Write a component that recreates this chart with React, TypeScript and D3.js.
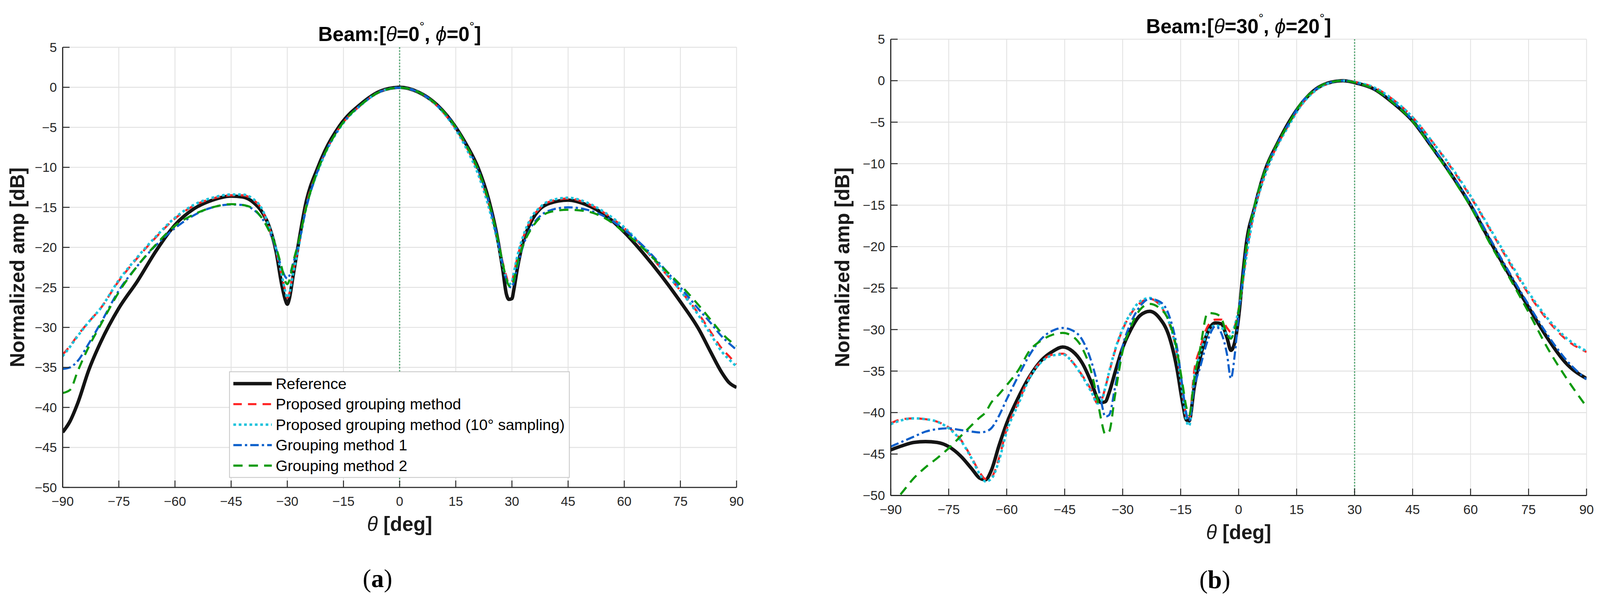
import React, { useEffect } from 'react';
import * as d3 from 'd3';

// tick values shared by both panels
const xTicks = [-90, -75, -60, -45, -30, -15, 0, 15, 30, 45, 60, 75, 90];
const yTicks = [5, 0, -5, -10, -15, -20, -25, -30, -35, -40, -45, -50];

const seriesNames = [
  'Reference',
  'Proposed grouping method',
  'Proposed grouping method (10\u00b0 sampling)',
  'Grouping method 1',
  'Grouping method 2',
];

// panel (a): beam [theta=0, phi=0]
const thetaA = [-90, -88, -86, -83, -80, -75, -70, -65, -60, -55, -50, -45, -42, -39, -37, -35, -33, -31.5, -30.5, -30,
  -29.5, -28.5, -27, -25, -22, -20, -16, -10, -5, 0, 5, 10, 15, 18, 21, 24, 26, 27.5, 28.5, 29.2,
  30, 30.5, 31.5, 33, 35, 37.5, 40, 45, 50, 55, 60, 65, 70, 75, 80, 83, 86, 88, 90];
const refA = [-43.1, -41.7, -39.5, -35.3, -32.0, -27.6, -24.2, -20.4, -17.2, -15.2, -14.1, -13.6, -13.7, -14.4, -15.4, -17.2, -20.5, -24.6, -26.6, -27.1,
  -26.5, -23.7, -19.5, -14.4, -10.2, -8.0, -4.8, -1.95, -0.45, 0, -0.6, -2.2, -5.0, -7.3, -10.1, -14.4, -18.5, -22.6, -25.8, -26.5,
  -26.4, -25.3, -22.5, -19.3, -16.9, -15.2, -14.5, -14.1, -14.7, -16.0, -18.1, -20.7, -23.6, -26.8, -30.3, -33.0, -35.6, -36.9, -37.5];
const propA = [-33.4, -32.3, -31.0, -29.3, -27.7, -24.2, -21.3, -18.7, -16.4, -14.8, -13.9, -13.5, -13.5, -14.1, -15.1, -17.4, -20.4, -23.5, -25.5, -26.3,
  -25.8, -23.2, -19.8, -14.9, -10.5, -8.3, -5.0, -2.1, -0.5, -0.05, -0.6, -2.3, -5.2, -7.6, -10.6, -14.9, -18.6, -21.8, -23.6, -24.5,
  -24.3, -23.3, -21.2, -18.8, -16.6, -15.1, -14.3, -13.9, -14.5, -15.8, -17.6, -20.0, -22.7, -25.4, -28.4, -30.5, -32.6, -33.6, -34.6];
const sampA = [-33.6, -32.4, -31.1, -29.3, -27.7, -24.1, -21.2, -18.6, -16.3, -14.7, -13.8, -13.4, -13.4, -14.0, -15.0, -17.2, -20.2, -23.4, -25.6, -26.3,
  -25.9, -23.4, -20.0, -15.1, -10.7, -8.4, -5.1, -2.1, -0.5, -0.05, -0.6, -2.3, -5.3, -7.8, -10.9, -15.3, -19.0, -22.2, -23.9, -24.6,
  -24.3, -23.2, -21.0, -18.6, -16.4, -15.0, -14.2, -13.8, -14.4, -15.7, -17.5, -19.9, -22.6, -25.4, -28.6, -30.8, -33.0, -34.0, -34.9];
const grp1A = [-35.2, -35.0, -34.2, -32.0, -29.6, -25.4, -22.3, -19.7, -17.6, -16.0, -15.0, -14.65, -14.7, -15.3, -16.2, -17.8, -20.2, -22.6, -23.7, -23.9,
  -23.6, -22.1, -19.6, -15.2, -10.6, -8.3, -5.0, -2.05, -0.5, -0.05, -0.6, -2.2, -5.0, -7.4, -10.3, -14.6, -18.5, -22.0, -24.0, -24.9,
  -25.0, -24.3, -22.3, -19.8, -17.6, -16.1, -15.4, -15.0, -15.3, -16.2, -17.8, -19.8, -22.3, -25.0, -27.8, -29.4, -31.1, -32.0, -32.8];
const grp2A = [-38.2, -37.8, -35.5, -32.4, -29.8, -25.6, -22.3, -19.6, -17.3, -15.9, -15.0, -14.6, -14.7, -15.2, -16.2, -17.8, -20.0, -22.5, -24.3, -24.6,
  -24.2, -22.0, -19.3, -15.1, -10.5, -8.3, -5.0, -2.05, -0.5, -0.05, -0.6, -2.2, -5.0, -7.4, -10.3, -14.6, -18.4, -21.9, -23.9, -24.8,
  -24.9, -24.1, -22.0, -19.7, -17.8, -16.3, -15.6, -15.3, -15.5, -16.4, -18.1, -20.1, -22.4, -24.7, -27.3, -29.0, -30.7, -31.6, -32.3];

// panel (b): beam [theta=30, phi=20]
const thetaB = [-90, -87, -84, -81, -78, -75, -72, -69, -67, -65.5, -64, -62, -60, -57, -54, -51, -48, -45.5, -43, -40.5,
  -38, -36.5, -35.5, -34.5, -33.5, -32, -30, -28, -25.5, -23, -20.5, -18, -16, -14.5, -13.5, -12.8, -11.5, -10, -8, -6,
  -4.5, -3, -2, -1, 0, 1, 2, 4, 7, 10, 13, 16, 20, 23, 27, 31, 35, 40, 45, 50, 55, 60, 65, 70, 75, 80, 85, 90];
const refB = [-44.5, -44.0, -43.6, -43.5, -43.6, -44.1, -45.2, -46.8, -47.9, -48.1, -47.0, -44.0, -41.3, -38.2, -35.6, -33.7, -32.6, -32.1, -32.6, -34.0,
  -36.5, -38.3, -38.8, -38.7, -37.6, -35.2, -32.2, -30.1, -28.3, -27.8, -28.6, -30.8, -34.6, -38.8, -40.9, -41.0, -37.0, -33.5, -30.3, -29.2,
  -29.3, -31.0, -32.5, -31.5, -28.5, -23.8, -19.6, -15.5, -10.6, -7.6, -5.0, -2.9, -1.0, -0.3, 0, -0.35, -1.0, -2.7, -4.85, -8.0,
  -11.3, -15.0, -19.3, -23.4, -27.3, -31.1, -34.2, -35.9];
const propB = [-41.3, -40.8, -40.7, -40.8, -41.1, -41.8, -43.2, -45.5, -47.2, -48.0, -47.8, -45.5, -42.0, -38.8, -35.6, -33.8, -33.0, -32.9, -33.9, -35.5,
  -37.4, -38.9, -38.5, -37.0, -35.2, -32.6, -30.0, -28.2, -26.8, -26.3, -27.0, -29.2, -32.8, -37.5, -40.5, -40.8, -35.0, -32.3, -29.6, -28.8,
  -28.8, -29.8, -30.3, -29.6, -27.5, -24.5, -21.0, -15.8, -11.0, -7.8, -5.3, -3.0, -1.1, -0.35, 0, -0.25, -0.8, -2.3, -4.4, -7.3,
  -10.5, -14.0, -17.9, -21.9, -25.7, -28.9, -31.3, -32.7];
const sampB = [-41.4, -40.9, -40.7, -40.8, -41.1, -41.9, -43.3, -45.6, -47.4, -48.3, -48.0, -45.8, -42.3, -39.0, -35.8, -33.9, -33.1, -33.0, -33.9, -35.6,
  -37.6, -38.9, -38.6, -37.0, -35.1, -32.5, -29.9, -28.1, -26.6, -26.2, -26.9, -29.1, -32.8, -37.8, -41.0, -41.6, -35.8, -33.0, -30.3, -29.5,
  -29.7, -30.6, -30.8, -29.5, -27.6, -24.6, -21.2, -16.0, -11.2, -7.9, -5.4, -3.1, -1.15, -0.35, 0, -0.25, -0.8, -2.3, -4.4, -7.3,
  -10.4, -13.9, -17.8, -21.7, -25.5, -28.7, -31.1, -32.6];
const grp1B = [-44.1, -43.5, -42.9, -42.3, -42.0, -41.9, -42.1, -42.3, -42.4, -42.3, -41.9, -40.4, -38.4, -35.6, -33.0, -31.1, -30.1, -29.8, -30.1, -31.2,
  -34.0, -36.6, -38.8, -40.5, -40.3, -37.0, -32.0, -29.3, -27.2, -26.3, -26.6, -28.3, -32.0, -37.0, -40.2, -41.0, -37.0, -34.6, -31.3, -29.6,
  -30.4, -33.0, -35.9, -33.0, -28.2, -24.0, -20.0, -15.3, -10.6, -7.6, -5.1, -2.8, -1.0, -0.3, 0, -0.35, -1.0, -2.6, -4.8, -7.9,
  -11.2, -14.8, -19.0, -23.1, -27.0, -30.7, -33.8, -36.0];
const grp2B = [-51.3, -49.6, -47.9, -46.6, -45.5, -44.3, -42.9, -41.5, -40.6, -40.0, -38.8, -37.8, -36.7, -34.9, -32.5, -31.3, -30.6, -30.4, -30.8, -32.2,
  -35.3, -38.5, -41.0, -42.6, -42.3, -38.0, -32.6, -29.8, -27.6, -26.9, -27.4, -29.0, -32.4, -36.6, -39.4, -40.3, -36.0, -32.4, -28.0, -28.1,
  -28.6, -30.6, -31.1, -29.9, -27.8, -24.0, -20.0, -15.3, -10.6, -7.6, -5.1, -2.8, -1.0, -0.25, 0, -0.35, -1.0, -2.7, -4.9, -8.1,
  -11.5, -15.2, -19.6, -23.7, -27.9, -32.3, -36.0, -39.3];

const lineStyles = [
  { color: '#141414', width: 9, dash: 'none' },
  { color: '#ff2424', width: 5.5, dash: '22 16' },
  { color: '#1ec3dc', width: 6.5, dash: '7 7' },
  { color: '#0a5fcb', width: 5.5, dash: '22 8 6 8' },
  { color: '#0c9a0c', width: 5.5, dash: '24 16' },
];

const W = 4162, H = 1577;
const FONT = '"Liberation Sans", Arial, Helvetica, sans-serif';
const AXIS = '#262626';
const fmt = (v: number) => (v < 0 ? '\u2212' + Math.abs(v) : String(v));

type PanelProps = {
  id: string;
  x0: number; x1: number; y0: number; y1: number;
  theta: number[];
  series: number[][];
  beam: [string, string];
  steer: number;
  tag: string; tagX: number; tagY: number;
  yLabelX: number;
  legend?: { x: number; y: number; w: number; h: number };
};

function Panel(p: PanelProps) {
  const x = d3.scaleLinear().domain([-90, 90]).range([p.x0, p.x1]);
  const y = d3.scaleLinear().domain([-50, 5]).range([p.y1, p.y0]);
  const line = d3.line<number>()
    .x((_, i) => x(p.theta[i]))
    .y(d => y(d))
    .curve(d3.curveMonotoneX);
  const cx = (p.x0 + p.x1) / 2;
  const cy = (p.y0 + p.y1) / 2;

  return (
    <g fontFamily={FONT}>
      <defs>
        <clipPath id={p.id}>
          <rect x={p.x0} y={p.y0} width={p.x1 - p.x0} height={p.y1 - p.y0} />
        </clipPath>
      </defs>

      {/* grid */}
      {xTicks.map(t => (
        <line key={'gx' + t} x1={x(t)} x2={x(t)} y1={p.y0} y2={p.y1} stroke="#e2e2e2" strokeWidth={2.2} />
      ))}
      {yTicks.map(t => (
        <line key={'gy' + t} x1={p.x0} x2={p.x1} y1={y(t)} y2={y(t)} stroke="#e2e2e2" strokeWidth={2.5} />
      ))}

      {/* steering direction */}
      <line x1={x(p.steer)} x2={x(p.steer)} y1={p.y0} y2={p.y1} stroke="#3f9f62" strokeWidth={3.2} strokeDasharray="3.5 4.5" />

      <g clipPath={`url(#${p.id})`}>
        {p.series.map((s, i) => (
          <path key={i} d={line(s) || ''} fill="none" stroke={lineStyles[i].color} strokeWidth={lineStyles[i].width}
            strokeDasharray={lineStyles[i].dash} strokeLinejoin="round" />
        ))}
      </g>

      {/* axes */}
      <line x1={p.x0} x2={p.x0} y1={p.y0} y2={p.y1} stroke={AXIS} strokeWidth={3} />
      <line x1={p.x0} x2={p.x1} y1={p.y1} y2={p.y1} stroke={AXIS} strokeWidth={3} />
      {xTicks.map(t => (
        <g key={'tx' + t}>
          <line x1={x(t)} x2={x(t)} y1={p.y1} y2={p.y1 - 18} stroke={AXIS} strokeWidth={2.5} />
          <text x={x(t)} y={p.y1 + 48} textAnchor="middle" fontSize={34} fill={AXIS}>{fmt(t)}</text>
        </g>
      ))}
      {yTicks.map(t => (
        <g key={'ty' + t}>
          <line x1={p.x0} x2={p.x0 + 18} y1={y(t)} y2={y(t)} stroke={AXIS} strokeWidth={2.5} />
          <text x={p.x0 - 15} y={y(t) + 12} textAnchor="end" fontSize={34} fill={AXIS}>{fmt(t)}</text>
        </g>
      ))}

      {/* title and labels */}
      <text x={cx} y={p.y0 - 16} textAnchor="middle" fontSize={52} fontWeight="bold" fill="#000">
        Beam:[<tspan fontStyle="italic" fontWeight="normal">θ</tspan>={p.beam[0]}
        <tspan dy={-28} fontSize={32} fontWeight="normal">°</tspan>
        <tspan dy={28}>, </tspan>
        <tspan fontStyle="italic" fontWeight="normal">ϕ</tspan>={p.beam[1]}
        <tspan dy={-28} fontSize={32} fontWeight="normal">°</tspan>
        <tspan dy={28}>]</tspan>
      </text>
      <text x={cx} y={p.y1 + 113} textAnchor="middle" fontSize={52} fontWeight="bold" fill="#1a1a1a">
        <tspan fontStyle="italic" fontWeight="normal">θ</tspan>{' [deg]'}
      </text>
      <text transform={`translate(${p.yLabelX},${cy}) rotate(-90)`} textAnchor="middle" fontSize={52} fontWeight="bold" fill="#1a1a1a">
        Normalized amp [dB]
      </text>
      <text x={p.tagX} y={p.tagY} textAnchor="middle" fontSize={66} fontFamily='"Liberation Serif", "DejaVu Serif", serif' fill="#000">
        (<tspan fontWeight="bold">{p.tag}</tspan>)
      </text>

      {p.legend && (
        <g>
          <rect x={p.legend.x} y={p.legend.y} width={p.legend.w} height={p.legend.h} fill="#fff" stroke="#c4c4c4" strokeWidth={2} />
          {seriesNames.map((name, i) => {
            const ly = p.legend!.y + 31 + i * 53.3;
            return (
              <g key={name}>
                <line x1={p.legend!.x + 10} x2={p.legend!.x + 110} y1={ly} y2={ly} stroke={lineStyles[i].color}
                  strokeWidth={lineStyles[i].width} strokeDasharray={lineStyles[i].dash} />
                <text x={p.legend!.x + 120} y={ly + 14} fontSize={40} fill="#000">{name}</text>
              </g>
            );
          })}
        </g>
      )}
    </g>
  );
}

export default function App() {
  useEffect(() => {
    document.body.style.margin = '0';
    document.documentElement.style.overflow = 'hidden';
    document.body.style.overflow = 'hidden';
  }, []);

  return (
    <svg viewBox={`0 0 ${W} ${H}`} preserveAspectRatio="xMinYMin meet"
      style={{ position: 'fixed', left: 0, top: 0, width: '100vw', height: '100vh', background: '#fff' }}>
      <rect width={W} height={H} fill="#fff" />
      <Panel id="clipA" x0={163} x1={1916} y0={123} y1={1268} theta={thetaA}
        series={[refA, propA, sampA, grp1A, grp2A]} beam={['0', '0']} steer={0}
        tag="a" tagX={982} tagY={1527} yLabelX={63}
        legend={{ x: 597, y: 967, w: 884, h: 275 }} />
      <Panel id="clipB" x0={2317} x1={4127} y0={102} y1={1289} theta={thetaB}
        series={[refB, propB, sampB, grp1B, grp2B]} beam={['30', '20']} steer={30}
        tag="b" tagX={3160} tagY={1530} yLabelX={2209} />
    </svg>
  );
}
